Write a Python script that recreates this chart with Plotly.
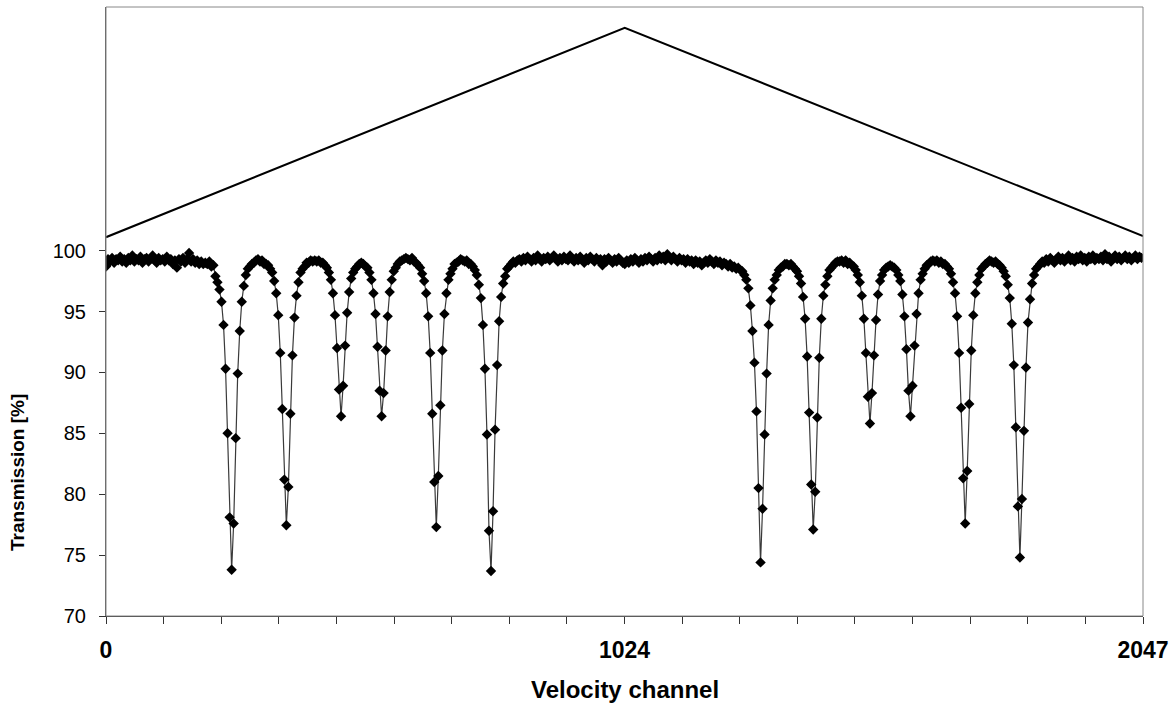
import numpy as np
import plotly.graph_objects as go

# Transmission [%] sampled every 4 velocity channels (0 ... 2044)
trans_a = [
    98.7, 99.3, 99.1, 99.4, 99.0, 99.3, 99.2, 99.5, 99.1, 99.3,
    99.0, 99.4, 99.2, 99.6, 99.1, 99.3, 99.2, 99.5, 99.0, 99.3,
    99.4, 99.1, 99.3, 99.6, 99.2, 99.0, 99.4, 99.2, 99.3, 99.1,
    99.5, 99.2, 99.3, 98.9, 99.2, 98.6, 99.3, 99.1, 99.4, 99.0,
    99.3, 99.8, 99.1, 99.3, 99.0, 99.2, 98.9, 99.1, 98.9, 99.0,
    98.9, 99.1, 98.7, 98.8, 97.9, 97.4, 96.8, 95.8, 93.9, 90.3,
    85.0, 78.1, 73.8, 77.6, 84.6, 89.9, 93.4, 95.8, 97.1, 98.0,
    98.5, 98.7, 98.9, 99.0, 99.2, 99.3, 99.1, 99.2, 98.9, 98.9,
    98.8, 98.5, 98.2, 97.5, 96.5, 94.7, 91.6, 87.0, 81.2, 77.45,
    80.6, 86.6, 91.4, 94.5, 96.3, 97.4, 98.2, 98.5, 98.7, 99.0,
    99.0, 99.2, 99.1, 99.2, 99.1, 99.2, 99.0, 99.0, 98.8, 98.6,
    98.2, 97.6, 96.5, 94.7, 92.0, 88.6, 86.4, 88.9, 92.2, 94.9,
    96.6, 97.7, 98.2, 98.5, 98.7, 98.9, 99.0, 98.9,
]
trans_b = [
    98.7, 98.6, 98.2, 97.6, 96.5, 94.8, 92.1, 88.5, 86.4, 88.3,
    91.8, 94.6, 96.6, 97.6, 98.3, 98.6, 98.9, 99.1, 99.2, 99.3,
    99.4, 99.3, 99.2, 99.4, 99.1, 99.0, 98.8, 98.6, 98.1, 97.5,
    96.5, 94.6, 91.6, 86.6, 81.0, 77.3, 81.5, 87.3, 91.8, 94.8,
    96.5, 97.6, 98.1, 98.5, 98.9, 99.0, 99.1, 99.3, 99.2, 99.1,
    99.2, 98.9, 98.9, 98.7, 98.4, 98.0, 97.2, 96.1, 93.9, 90.3,
    84.9, 77.0, 73.7, 78.6, 85.3, 90.6, 94.2, 96.2, 97.3, 97.9,
    98.5, 98.7, 98.9, 99.1, 99.0, 99.2, 99.3, 99.1, 99.4, 99.2,
    99.5, 99.3, 99.1, 99.4, 99.2, 99.6, 99.3, 99.1, 99.4, 99.3,
    99.5, 99.2, 99.4, 99.6, 99.3, 99.1, 99.4, 99.2, 99.5, 99.3,
    99.2, 99.6, 99.3, 99.1, 99.4, 99.2, 99.5, 99.3, 99.0, 99.4,
    99.2, 99.5, 99.3, 99.1, 99.4, 99.2, 99.3, 98.8, 99.3, 99.1,
    99.4, 99.2, 99.0, 99.3, 99.1, 99.4, 99.2, 99.0,
]
trans_c = [
    98.9, 99.2, 99.0, 99.3, 99.1, 99.4, 99.2, 99.0, 99.3, 99.1,
    99.4, 99.2, 99.5, 99.3, 99.1, 99.4, 99.2, 99.6, 99.3, 99.5,
    99.2, 99.7, 99.4, 99.2, 99.5, 99.3, 99.1, 99.4, 99.2, 99.3,
    99.0, 99.3, 99.1, 99.2, 98.9, 99.2, 99.0, 99.1, 98.8, 99.0,
    99.2, 99.0, 99.3, 99.1, 98.9, 99.2, 99.0, 99.1, 98.8, 99.0,
    98.9, 98.7, 98.9, 98.6, 98.7, 98.5, 98.6, 98.4, 98.3, 98.0,
    97.6, 96.9, 95.5, 93.4, 90.8, 86.8, 80.5, 74.4, 78.8, 84.9,
    89.9, 93.9, 95.9, 96.9, 97.6, 98.0, 98.4, 98.6, 98.7, 98.9,
    98.9, 98.8, 98.9, 98.7, 98.5, 98.3, 97.9, 97.3, 96.2, 94.4,
    91.3, 86.7, 80.8, 77.1, 80.2, 86.3, 91.2, 94.4, 96.3, 97.2,
    97.9, 98.4, 98.6, 98.8, 99.0, 99.1, 99.1, 99.2, 99.0, 99.2,
    98.9, 99.0, 98.8, 98.7, 98.4, 98.0, 97.4, 96.3, 94.4, 91.6,
    88.0, 85.8, 88.3, 91.4, 94.3, 96.4, 97.5, 98.0,
]
trans_d = [
    98.4, 98.6, 98.7, 98.8, 98.7, 98.6, 98.4, 98.0, 97.5, 96.4,
    94.6, 91.9, 88.5, 86.4, 88.9, 92.2, 94.8, 96.5, 97.6, 98.1,
    98.5, 98.8, 98.9, 99.1, 99.2, 99.1, 99.2, 99.0, 99.1, 98.9,
    98.9, 98.7, 98.5, 98.1, 97.4, 96.5, 94.6, 91.6, 87.1, 81.3,
    77.6, 81.9, 87.4, 91.8, 94.7, 96.5, 97.4, 98.0, 98.5, 98.7,
    98.9, 99.0, 99.2, 99.1, 99.0, 99.1, 98.9, 98.8, 98.6, 98.3,
    97.9, 97.2, 96.1, 94.0, 90.6, 85.5, 79.0, 74.8, 79.6, 85.2,
    90.4, 94.1, 96.0, 97.3, 98.0, 98.5, 98.7, 98.9, 99.1, 99.0,
    99.3, 99.1, 99.4, 99.2, 99.0, 99.3, 99.5, 99.2, 99.4, 99.1,
    99.3, 99.6, 99.2, 99.4, 99.1, 99.5, 99.3, 99.6, 99.2, 99.4,
    99.1, 99.5, 99.3, 99.6, 99.2, 99.4, 99.3, 99.5, 99.2, 99.7,
    99.3, 99.5, 99.1, 99.4, 99.6, 99.3, 99.5, 99.2, 99.4, 99.6,
    99.3, 99.5, 99.2, 99.4, 99.6, 99.3, 99.5, 99.4,
]
channel_step = 4

# Velocity waveform (triangle) drawn above the spectrum
wave_channels = [0, 1024, 2047]
wave_values = [101.1, 118.3, 101.2]

y_tick_values = [70, 75, 80, 85, 90, 95, 100]
x_tick_labels = ["0", "", "", "", "", "", "", "", "", "1024",
                 "", "", "", "", "", "", "", "", "2047"]

transmission = trans_a + trans_b + trans_c + trans_d
channels = np.arange(len(transmission)) * channel_step
x_tick_values = np.linspace(0, 2047, len(x_tick_labels))

fig = go.Figure()
fig.add_trace(go.Scatter(
    x=channels, y=transmission, mode="lines+markers",
    line=dict(color="#3a3a3a", width=1.2),
    marker=dict(symbol="diamond", size=8, color="black"),
    showlegend=False,
))
fig.add_trace(go.Scatter(
    x=wave_channels, y=wave_values, mode="lines",
    line=dict(color="black", width=2),
    showlegend=False,
))

font_family = "Liberation Sans, Arial, sans-serif"
fig.update_layout(
    width=1176, height=711,
    margin=dict(l=106, r=31, t=7, b=95),
    paper_bgcolor="white", plot_bgcolor="white",
    font=dict(family=font_family, color="black"),
    xaxis=dict(
        range=[0, 2047], tickmode="array", tickvals=x_tick_values,
        ticktext=x_tick_labels, ticks="outside", ticklen=7,
        tickcolor="#333", tickwidth=1, showline=True, linecolor="#333",
        linewidth=1, showgrid=False, zeroline=False,
        tickfont=dict(size=23, weight="bold", family=font_family),
        ticklabelstandoff=6,
    ),
    yaxis=dict(
        range=[70, 120], tickmode="array", tickvals=y_tick_values,
        ticks="outside", ticklen=6, tickcolor="#333", tickwidth=1,
        showline=True, linecolor="#555", linewidth=1, showgrid=False,
        zeroline=False, tickfont=dict(size=20, family=font_family),
        ticklabelstandoff=9,
    ),
    shapes=[dict(type="rect", xref="paper", yref="paper", x0=0, x1=1,
                 y0=0, y1=1, line=dict(color="#888", width=1))],
    annotations=[
        dict(text="<b>Velocity channel</b>", xref="paper", yref="paper",
             x=0.5, y=-0.1215, xanchor="center", yanchor="middle",
             showarrow=False, font=dict(size=24, family=font_family)),
        dict(text="<b>Transmission [%]</b>", xref="paper", yref="paper",
             x=(18 - 106) / 1039, y=0.235, xanchor="center",
             yanchor="middle", textangle=-90, showarrow=False,
             font=dict(size=19, family=font_family)),
    ],
)

fig.write_html("out.html")
